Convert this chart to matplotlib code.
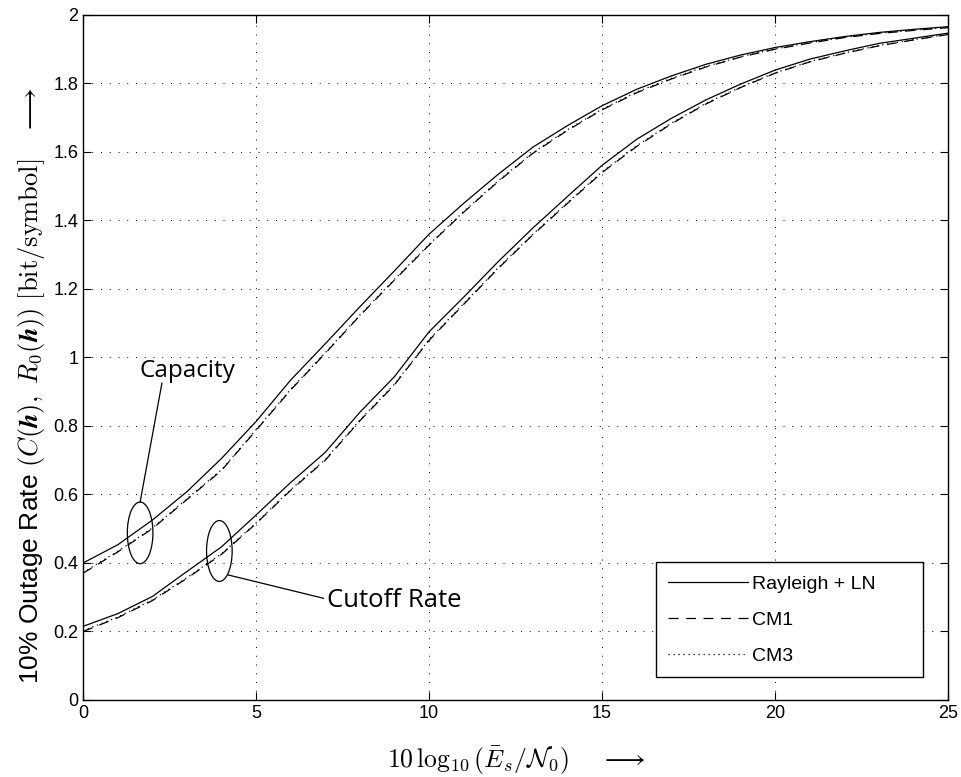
import matplotlib
matplotlib.use('Agg')
import matplotlib.pyplot as plt
from matplotlib.patches import Ellipse

plt.rcParams['mathtext.fontset'] = 'cm'
plt.rcParams['font.family'] = ['Liberation Sans', 'DejaVu Sans']

# SNR in dB
snr = [0, 1, 2, 3, 4, 5, 6, 7, 8, 9, 10, 11, 12,
       13, 14, 15, 16, 17, 18, 19, 20, 21, 22, 23, 24, 25]

# capacity curves
cap_rayleigh = [0.40, 0.453, 0.525, 0.608, 0.705, 0.813, 0.934, 1.04, 1.148, 1.253, 1.36, 1.45, 1.535,
                1.614, 1.677, 1.735, 1.783, 1.822, 1.856, 1.883, 1.905, 1.922, 1.937, 1.949, 1.958, 1.966]
cap_cm1 = [0.37, 0.432, 0.50, 0.585, 0.67, 0.787, 0.905, 1.012, 1.122, 1.226, 1.328, 1.424, 1.514,
           1.596, 1.663, 1.723, 1.773, 1.813, 1.848, 1.877, 1.900, 1.918, 1.934, 1.946, 1.955, 1.963]
cap_cm3 = [0.372, 0.434, 0.502, 0.587, 0.672, 0.789, 0.907, 1.014, 1.124, 1.228, 1.330, 1.426, 1.516,
           1.598, 1.665, 1.725, 1.775, 1.815, 1.850, 1.878, 1.901, 1.919, 1.935, 1.947, 1.956, 1.964]

# cutoff rate curves
cut_rayleigh = [0.215, 0.252, 0.302, 0.375, 0.447, 0.54, 0.635, 0.723, 0.84, 0.944, 1.075, 1.176, 1.28,
                1.378, 1.47, 1.561, 1.637, 1.698, 1.752, 1.798, 1.839, 1.871, 1.895, 1.917, 1.932, 1.947]
cut_cm1 = [0.20, 0.24, 0.29, 0.355, 0.425, 0.515, 0.612, 0.70, 0.815, 0.92, 1.05, 1.155, 1.26,
           1.358, 1.45, 1.54, 1.616, 1.682, 1.74, 1.788, 1.83, 1.863, 1.888, 1.91, 1.927, 1.943]
cut_cm3 = [0.202, 0.242, 0.292, 0.357, 0.427, 0.517, 0.614, 0.702, 0.817, 0.922, 1.052, 1.157, 1.262,
           1.36, 1.452, 1.542, 1.618, 1.684, 1.742, 1.789, 1.831, 1.864, 1.889, 1.911, 1.928, 1.944]

fig = plt.figure(figsize=(9.61, 7.77), dpi=100)
ax = fig.add_axes([0.0864, 0.0991, 0.9001, 0.8816])

lw = 0.9
dash = (0, (8, 6))
dot = (0, (1, 3))
ax.plot(snr, cap_rayleigh, 'k-', lw=lw, label='Rayleigh + LN')
ax.plot(snr, cap_cm1, 'k', ls=dash, lw=lw, label='CM1')
ax.plot(snr, cap_cm3, 'k', ls=dot, lw=lw, label='CM3')
ax.plot(snr, cut_rayleigh, 'k-', lw=lw)
ax.plot(snr, cut_cm1, 'k', ls=dash, lw=lw)
ax.plot(snr, cut_cm3, 'k', ls=dot, lw=lw)

ax.set_xlim(0, 25)
ax.set_ylim(0, 2)
ax.set_xticks([0, 5, 10, 15, 20, 25])
ax.set_yticks([0, 0.2, 0.4, 0.6, 0.8, 1, 1.2, 1.4, 1.6, 1.8, 2])
ax.set_yticklabels(['0', '0.2', '0.4', '0.6', '0.8', '1', '1.2', '1.4', '1.6', '1.8', '2'])
ax.tick_params(direction='in', length=6, width=0.8, top=True, right=True, labelsize=13)
ax.grid(True, color='k', ls=(0, (1, 8)), lw=0.7)
for s in ax.spines.values():
    s.set_linewidth(1.0)

# ellipses marking the curve groups
ax.add_patch(Ellipse((1.65, 0.488), 0.74, 0.18, fill=False, lw=0.9, ec='k'))
ax.add_patch(Ellipse((3.94, 0.435), 0.74, 0.178, fill=False, lw=0.9, ec='k'))
ax.plot([1.65, 2.28], [0.578, 0.925], 'k-', lw=0.9)
ax.plot([4.2, 6.95], [0.365, 0.297], 'k-', lw=0.9)
ax.text(1.62, 0.96, 'Capacity', fontsize=17.5, family='Open Sans', va='center', ha='left')
ax.text(7.05, 0.29, 'Cutoff Rate', fontsize=18.5, family='Open Sans', va='center', ha='left')

leg = ax.legend(loc='lower left', bbox_to_anchor=(0.662, 0.033, 0.309, 0.167), mode='expand',
                fontsize=14, handlelength=4.1, handletextpad=0.2, fancybox=False, edgecolor='k',
                framealpha=1, borderpad=0.65, labelspacing=0.95, borderaxespad=0)
leg.get_frame().set_linewidth(1.0)

ax.set_xlabel(r'$10\,\log_{10}(\bar{E}_s/\mathcal{N}_0)\quad\ \longrightarrow$', fontsize=18.5)
ax.xaxis.set_label_coords(0.501, -0.066)
ax.set_ylabel(r'10% Outage Rate $(C(\boldsymbol{h}),\ R_0(\boldsymbol{h}))\ \mathrm{[bit/symbol]}\quad\longrightarrow$',
              fontsize=19)
ax.yaxis.set_label_coords(-0.042, 0.458)

fig.savefig('out.png', dpi=100)
